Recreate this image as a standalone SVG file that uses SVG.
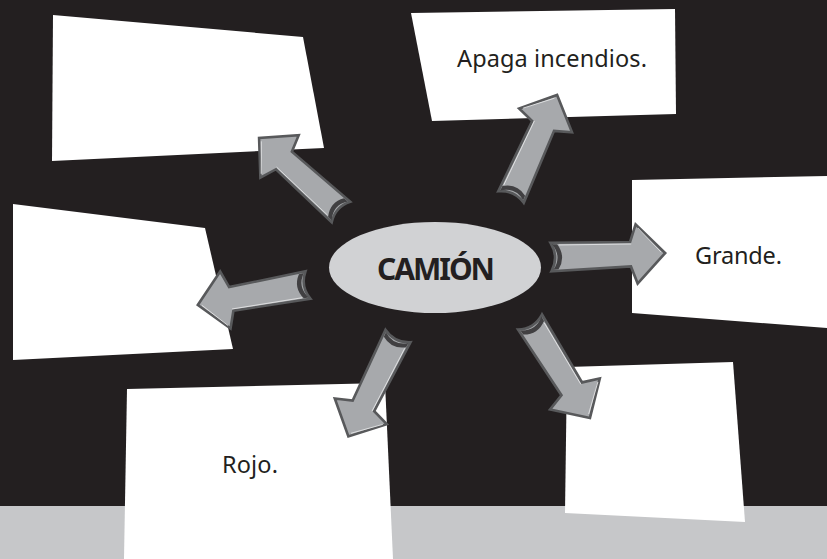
<svg xmlns="http://www.w3.org/2000/svg" width="827" height="559" viewBox="0 0 827 559">
<style>
.box{fill:#ffffff}
.lbl{font-family:"Noto Sans","Open Sans",sans-serif;font-size:23.5px;fill:#231f20}
.abody{fill:#a7a9ac;stroke:#58595b;stroke-width:2.6;stroke-linejoin:miter}
.afold{fill:#414042}
.ahi{fill:none;stroke:#e6e7e8;stroke-width:0.8}
</style>
<defs>
<g id="arrowShape">
<path class="abody" d="M0,-14 L78,-12 L84,-29 L112,0 L84,29 L78,12 L0,14 Q8,0 0,-14 Z"/>
<path class="afold" d="M1.5,-12.5 Q11,0 2,12.5 L7,12.3 Q15,0 6.5,-12.3 Z"/>
<path class="ahi" d="M8,-11.5 L79,-10 M86,-25.5 L108,-1"/>
</g>
</defs>
<rect x="0" y="0" width="827" height="559" fill="#231f20"/>
<rect x="0" y="506" width="827" height="53" fill="#c6c7c9"/>

<g id="box-topleft"><polygon class="box" points="53,15 303,37 324,148 52,161"/></g>
<g id="box-top"><polygon class="box" points="411,13 675,9 676,114 432,121"/>
<text class="lbl" x="457" y="67" textLength="190">Apaga incendios.</text></g>
<g id="box-left"><polygon class="box" points="13,204 205,228 233,349 13,360"/></g>
<g id="box-right"><polygon class="box" points="632,180 827,176 827,328 632,313"/>
<text class="lbl" x="695" y="264" textLength="87">Grande.</text></g>
<g id="box-bottomleft"><polygon class="box" points="127,389 385,383 393,559 124,559"/>
<text class="lbl" x="222" y="473" textLength="56">Rojo.</text></g>
<g id="box-bottomright"><polygon class="box" points="567,367 733,362 745,522 565,513"/></g>

<g id="center">
<ellipse cx="435" cy="267.5" rx="106" ry="45.5" fill="#d1d2d4"/>
<text x="377" y="280" textLength="118" style="font-family:'Noto Sans','Open Sans',sans-serif;font-weight:bold;font-size:30px;fill:#231f20">CAMIÓN</text>
</g>

<g id="connectors">
<g transform="translate(341,212) rotate(-137.9) scale(0.986)"><use href="#arrowShape"/></g>
<g transform="translate(511,197) rotate(-65.7)"><use href="#arrowShape"/></g>
<g transform="translate(551,257) rotate(-2) scale(1.02)"><use href="#arrowShape"/></g>
<g transform="translate(308,285) rotate(169.7)"><use href="#arrowShape"/></g>
<g transform="translate(398,336) rotate(116.3)"><use href="#arrowShape"/></g>
<g transform="translate(530,322) rotate(58) scale(1.01)"><use href="#arrowShape"/></g>
</g>
</svg>
